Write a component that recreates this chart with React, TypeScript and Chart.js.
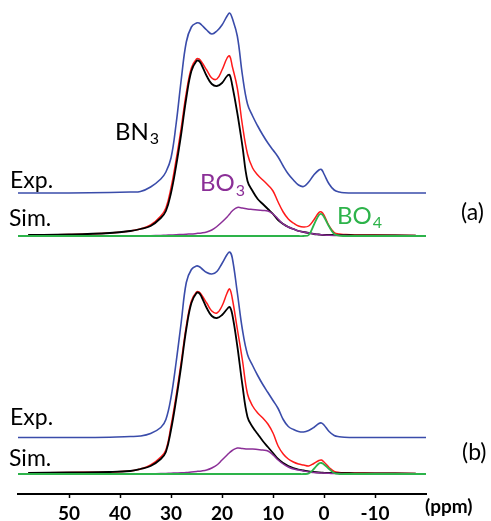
import React, { useEffect, useRef } from "react";
import { Chart, registerables } from "chart.js";
Chart.register(...registerables);

// chemical shift grid (ppm)
const ppm = [60, 58, 50, 42, 38, 36, 34, 32, 31, 30, 29, 28, 27, 26, 25, 24.5, 24, 23, 22, 21, 20, 19, 18.5, 18, 17, 16, 15, 14, 13, 12, 11, 10, 9, 8, 7, 6, 5, 4, 3, 2, 1, 0.5, 0, -1, -2, -3, -4, -6, -10, -18, -20];

const xTicks = [50, 40, 30, 20, 10, 0, -10];

// panel (a)
const expA = [0, 0, 0, 0.5, 1, 1.5, 6, 14, 21, 35, 69, 113, 151, 166, 170, 170, 168, 163, 159, 162, 168, 177, 180, 175, 157, 118, 89, 77, 67, 58, 50, 43, 36, 27, 19, 13, 8, 6.5, 11, 18, 23, 23.5, 19, 9, 3, 1, 0.3, 0, 0, 0, 0];
const simA = [null, 1, 1.5, 3, 5, 7, 11, 20, 28, 48, 76, 108, 143, 168, 177, 177, 174, 166, 158, 157, 166, 178, 180, 170, 148, 111, 82, 68, 61, 56, 51, 45, 34, 24, 17, 13, 10, 9, 10, 16, 23.5, 24, 21, 10, 3.5, 2, 1.5, 1, 1, 0.5, null];
const bn3A = [null, 1, 1.5, 3, 5, 7, 10, 18, 25, 43, 70, 102, 138, 165, 175, 175, 171, 160, 152, 150, 153, 160, 161, 151, 123, 90, 55, 45, 37, 32, 27, 22, 16, 12, 9, 7, 5, 4, 3, 2, 1.5, 1.2, 1, 1, 1, 0.9, 0.8, 0.7, 0.6, 0.4, null];
const bo3A = [0, 0, 0, 0, 0, 0, 0.3, 0.6, 0.8, 1, 1.2, 1.5, 1.8, 2, 2.5, 2.8, 3, 4, 6, 9.5, 14, 19, 22, 25, 28.5, 28, 27, 26.5, 26, 25.5, 25, 22, 17, 12, 9, 7, 5, 4, 3, 2, 1.5, 1.3, 1.1, 0.8, 0.6, 0.5, 0.4, 0.3, 0.2, 0.1, 0];
const bo4A = [0, 0, 0, 0, 0, 0, 0, 0, 0, 0, 0, 0, 0, 0, 0, 0, 0, 0, 0, 0, 0, 0, 0, 0, 0, 0, 0, 0, 0, 0, 0, 0, 0, 0, 0, 0, 0, 0, 1, 11, 21, 22, 19, 9.5, 2, 0.3, 0, 0, 0, 0, 0];

// panel (b)
const expB = [0, 0, 0, 0.3, 1, 1.5, 4, 10, 18, 40, 75, 115, 155, 168, 171.5, 171, 169, 165, 163.5, 166, 174, 183, 185.5, 180, 145, 108, 83, 72, 62, 53, 45, 37, 29, 18, 11, 8, 6, 5.5, 7, 10, 14, 14.5, 12.5, 6, 2, 0.8, 0.3, 0, 0, 0, 0];
const simB = [null, 1, 1.5, 2, 3, 5, 9, 17, 24, 48, 78, 112, 148, 173, 182, 182, 179, 171, 163, 161, 168, 181, 185, 176, 145, 114, 80, 68, 61, 56, 50, 41, 28, 20, 15, 12, 10, 9, 8, 10.5, 13.5, 14, 12, 6.5, 2.5, 1.5, 1.2, 1, 0.8, 0.5, null];
const bn3B = [null, 1, 1.5, 2, 3, 5, 8, 15, 22, 44, 74, 108, 145, 171, 181, 181, 177, 166, 158, 156, 159, 165, 167, 160, 128, 89, 57, 47, 40, 33, 27, 21, 15, 11, 8, 6, 4.5, 3.5, 2.5, 2, 1.5, 1.3, 1.2, 1, 1, 0.9, 0.8, 0.7, 0.6, 0.4, null];
const bo3B = [0, 0, 0, 0, 0, 0, 0.2, 0.4, 0.6, 0.8, 1, 1.2, 1.5, 2, 2.5, 2.8, 3, 4, 6, 9, 14, 19, 21.5, 23.5, 26, 25.5, 25, 25, 24.5, 24, 23, 19, 14, 10, 7, 5, 4, 3, 2, 1.5, 1.2, 1, 0.9, 0.7, 0.5, 0.4, 0.3, 0.2, 0.1, 0, 0];
const bo4B = [0, 0, 0, 0, 0, 0, 0, 0, 0, 0, 0, 0, 0, 0, 0, 0, 0, 0, 0, 0, 0, 0, 0, 0, 0, 0, 0, 0, 0, 0, 0, 0, 0, 0, 0, 0, 0, 0, 0.5, 5, 10.5, 11, 9.5, 5, 1, 0, 0, 0, 0, 0, 0];

// vertical stacking offsets of each trace
const OFF_A_EXP = 301;
const OFF_A_SIM = 258;
const OFF_B_EXP = 56.5;
const OFF_B_SIM = 20;
const Y_MAX = 494;

const BLUE = "#3a4caa";
const RED = "#ff1a1a";
const BLACK = "#000000";
const PURPLE = "#8b2f97";
const GREEN = "#2db34a";
const FONT = "Lato";

function drawSub(ctx: CanvasRenderingContext2D, x: number, y: number, main: string, sub: string, color: string, size: number, subSize: number, subDy: number) {
  ctx.fillStyle = color;
  ctx.textAlign = "left";
  ctx.textBaseline = "alphabetic";
  ctx.font = `${size}px ${FONT}`;
  ctx.fillText(main, x, y);
  const w = ctx.measureText(main).width;
  ctx.font = `${subSize}px ${FONT}`;
  ctx.fillText(sub, x + w + 1, y + subDy);
}

const labelsPlugin = {
  id: "nmrLabels",
  afterDraw(chart: any) {
    const ctx: CanvasRenderingContext2D = chart.ctx;
    ctx.save();
    ctx.fillStyle = "#000";
    ctx.textAlign = "left";
    ctx.textBaseline = "alphabetic";
    ctx.font = `23px ${FONT}`;
    ctx.fillText("Exp.", 10, 188);
    ctx.fillText("Sim.", 9, 226);
    ctx.fillText("Exp.", 10, 425);
    ctx.fillText("Sim.", 9, 466);
    drawSub(ctx, 115, 140, "BN", "3", BLACK, 24, 16, 4);
    drawSub(ctx, 200, 191, "BO", "3", PURPLE, 24, 16, 5);
    drawSub(ctx, 337, 224, "BO", "4", GREEN, 24, 16, 4);
    ctx.fillStyle = "#000";
    ctx.textBaseline = "middle";
    ctx.font = `23px ${FONT}`;
    ctx.fillText("(a)", 461, 213);
    ctx.fillText("(b)", 462, 453);
    ctx.font = `bold 19px ${FONT}`;
    ctx.fillText("(ppm)", 425, 507);
    ctx.restore();
  },
};

function series(vals: (number | null)[], off: number) {
  return ppm.map((x, i) => ({ x, y: vals[i] === null ? null : (vals[i] as number) + off }));
}

export default function App() {
  const ref = useRef<HTMLCanvasElement>(null);
  useEffect(() => {
    const canvas = ref.current!;
    const ds = (label: string, vals: (number | null)[], off: number, color: string, width: number) => ({
      label,
      data: series(vals, off),
      borderColor: color,
      backgroundColor: color,
      borderWidth: width,
      pointRadius: 0,
      fill: false,
      tension: 0.4,
    });
    const chart = new Chart(canvas, {
      type: "line",
      data: {
        datasets: [
          ds("BO4 (a)", bo4A, OFF_A_SIM, GREEN, 1.8),
          ds("BO4 (b)", bo4B, OFF_B_SIM, GREEN, 1.8),
          ds("BO3 (a)", bo3A, OFF_A_SIM, PURPLE, 1.5),
          ds("BO3 (b)", bo3B, OFF_B_SIM, PURPLE, 1.5),
          ds("BN3 (a)", bn3A, OFF_A_SIM, BLACK, 1.8),
          ds("BN3 (b)", bn3B, OFF_B_SIM, BLACK, 1.8),
          ds("Sim. (a)", simA, OFF_A_SIM, RED, 1.5),
          ds("Sim. (b)", simB, OFF_B_SIM, RED, 1.5),
          ds("Exp. (a)", expA, OFF_A_EXP, BLUE, 1.6),
          ds("Exp. (b)", expB, OFF_B_EXP, BLUE, 1.6),
        ],
      },
      options: {
        animation: false,
        responsive: false,
        layout: { padding: { left: 18, right: 65, top: 0, bottom: 0 } },
        plugins: { legend: { display: false }, tooltip: { enabled: false } },
        scales: {
          x: {
            type: "linear",
            min: -20,
            max: 60,
            reverse: true,
            afterBuildTicks: (s: any) => {
              s.ticks = xTicks.map((v) => ({ value: v }));
            },
            afterFit: (s: any) => {
              s.height = 27;
            },
            grid: { drawOnChartArea: false, drawTicks: true, tickLength: 4, tickWidth: 1.5, tickColor: "#000" },
            border: { display: true, color: "#000", width: 2 },
            ticks: {
              color: "#000",
              padding: 4,
              autoSkip: false,
              maxRotation: 0,
              font: { family: FONT, size: 19, weight: "bold" },
              callback: (v: any) => String(v),
            },
          },
          y: { display: false, min: 0, max: Y_MAX },
        },
      },
      plugins: [labelsPlugin],
    } as any);
    return () => chart.destroy();
  }, []);
  return (
    <div style={{ position: "fixed", left: 0, top: 0, width: 491, height: 521, background: "#fff" }}>
      <canvas ref={ref} width={491} height={521} style={{ width: 491, height: 521, display: "block" }} />
    </div>
  );
}
